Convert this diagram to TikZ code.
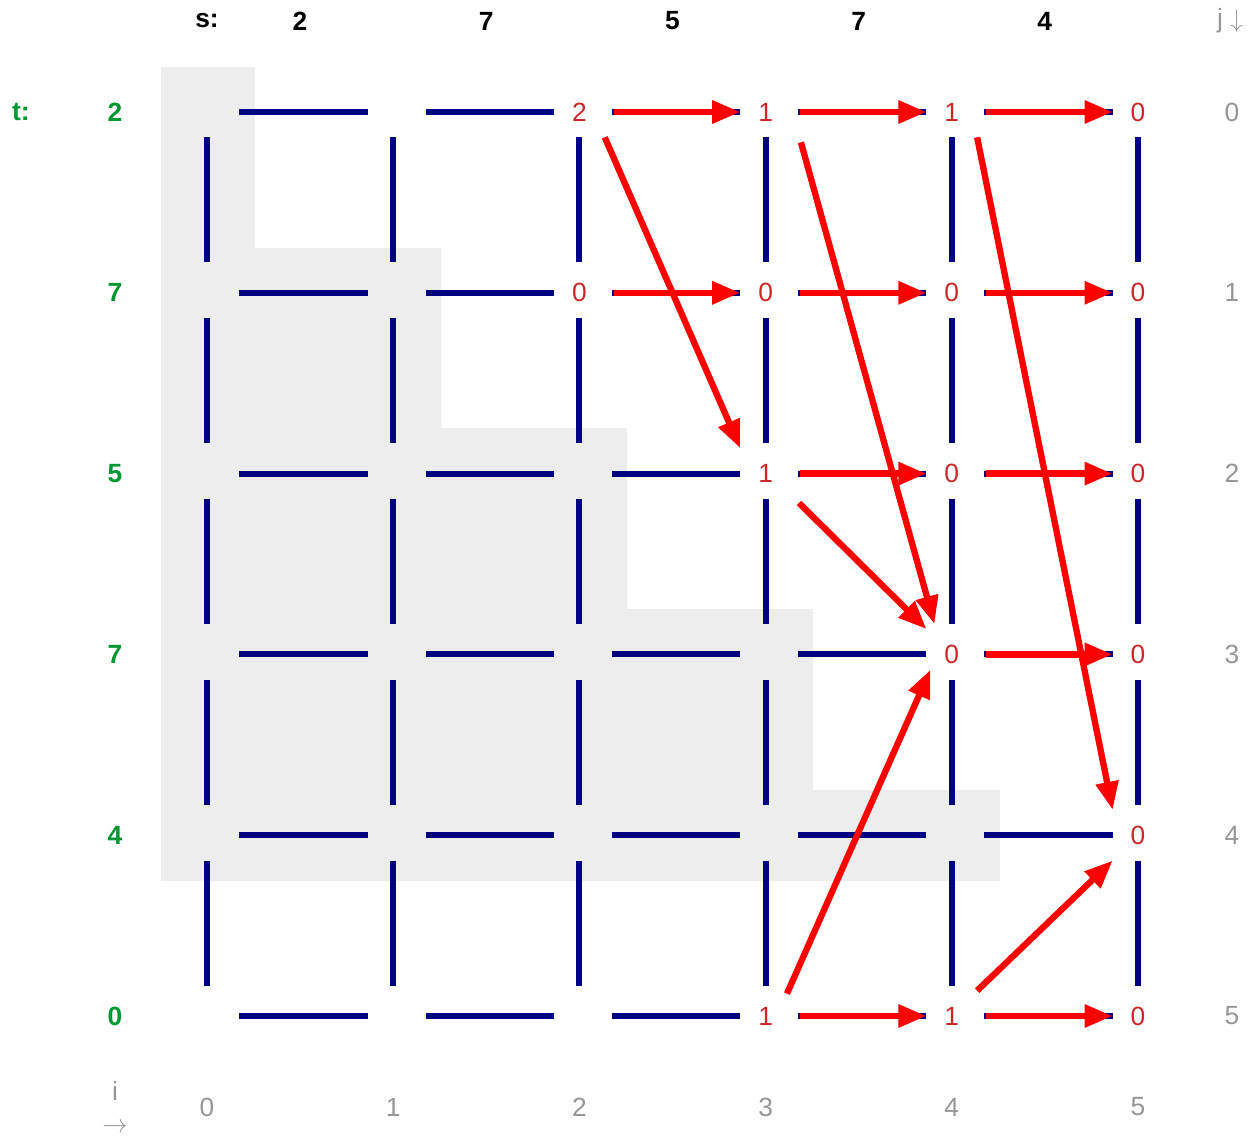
\documentclass[tikz,border=0pt]{standalone}
\usepackage{fontspec}
\setmainfont{Liberation Sans}
\usepackage{xcolor}
\usetikzlibrary{arrows.meta}
\definecolor{segblue}{RGB}{0,0,128}
\definecolor{arrred}{RGB}{255,0,0}
\definecolor{numred}{RGB}{200,40,40}
\definecolor{tgreen}{RGB}{0,150,50}
\definecolor{labgray}{RGB}{150,150,150}
\definecolor{bggray}{RGB}{237,237,237}
\newcommand{\lblsize}{\fontsize{15}{18}\selectfont}

\begin{document}
\begin{tikzpicture}[x=0.02cm,y=-0.02cm,
  cell/.style={minimum size=1cm,inner sep=0pt,text=numred,font=\lblsize},
  seg/.style={draw=segblue,line width=3.4pt},
  move/.style={draw=arrred,line width=3.6pt,-{Triangle[length=16pt,width=12.5pt]}},
  head/.style={font=\lblsize\bfseries},
  lab/.style={text=labgray,font=\lblsize}]
  \useasboundingbox (0,0) rectangle (1258,1145);

  % 背景
  \fill[bggray] (161,67) -| (255,248) -| (441,428) -| (627,609) -| (813,790) -| (1000,881) -- (161,881) -- cycle;

  % 格子
  \foreach \i/\j in {0/0,0/1,0/2,0/3,0/4,0/5,1/0,1/1,1/2,1/3,1/4,1/5,2/2,2/3,2/4,2/5,3/3,3/4,4/4}
    \node[cell] (n\i\j) at (207+186.2*\i,112+180.8*\j) {};
  \foreach \i/\j/\v in {2/0/2,3/0/1,4/0/1,5/0/0,2/1/0,3/1/0,4/1/0,5/1/0,3/2/1,4/2/0,5/2/0,4/3/0,5/3/0,5/4/0,3/5/1,4/5/1,5/5/0}
    \node[cell] (n\i\j) at (207+186.2*\i,112+180.8*\j) {\v};
  \foreach \i [evaluate=\i as \k using int(\i+1)] in {0,...,4}
    \foreach \j in {0,...,5} {
      \draw[seg,shorten <=0.14cm] (n\i\j.east) -- (n\k\j.west);
      \draw[seg,shorten >=0.1cm] (n\j\i.south) -- (n\j\k.north);
    }

  % 矢印
  \foreach \i/\j [evaluate=\i as \k using int(\i+1)] in {2/0,3/0,4/0,2/1,3/1,4/1,3/2,4/2,4/3,3/5,4/5}
    \draw[move,shorten <=0.18cm] (n\i\j.east) -- (n\k\j.west);
  \draw[move] (n20.south east) -- (n32.north west);
  \draw[move] ([shift={(10,5)}]n30.south east) -- ([shift={(8,-5)}]n43.north west);
  \draw[move] (n40.south east) -- (n54.north west);
  \draw[move] ([shift={(8,4)}]n32.south east) -- (n43.north west);
  \draw[move] ([shift={(-4,3)}]n35.north east) -- ([shift={(4,-10)}]n43.south west);
  \draw[move] (n45.north east) -- (n54.south west);

  % ラベル
  \node[head] (slab) at (207,21) {s:};
  \foreach \i/\v in {0/2,1/7,2/5,3/7,4/4}
    \node[head] (s\i) at (300+186.2*\i,21) {\v};
  \node[head,text=tgreen] (tlab) at (21,112) {t:};
  \foreach \j/\v in {0/2,1/7,2/5,3/7,4/4,5/0}
    \node[head,text=tgreen] (t\j) at (115,112+180.8*\j) {\v};
  \node[lab] (jlab) at (1230,21) {j\ $\downarrow$};
  \foreach \j in {0,...,5}
    \node[lab] (j\j) at (1232,112+180.8*\j) {\j};
  \node[lab,align=center] (ilab) at (115,1107) {i\\$\rightarrow$};
  \foreach \i in {0,...,5}
    \node[lab] (i\i) at (207+186.2*\i,1107) {\i};
\end{tikzpicture}
\end{document}
